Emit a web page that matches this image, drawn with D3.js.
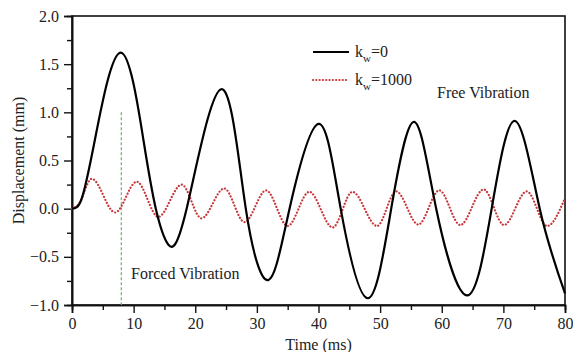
<!DOCTYPE html>
<html>
<head>
<meta charset="utf-8">
<script src="https://cdn.jsdelivr.net/npm/d3@7"></script>
<style>
  body { margin: 0; background: #fff; }
  svg { display: block; }
  svg text { font-family: "Liberation Serif", "Times New Roman", Times, "DejaVu Serif", serif; fill: #222; }
  .axis path, .axis line { stroke: #111; }
</style>
</head>
<body>
<div id="chart"></div>
<script>
// --- data (peaks, troughs, zero crossings) ---

// k_w = 0 (black solid)
const timeK0 = [0, 1.5, 3.7, 7.9, 11.6, 13.6, 15.6, 18.6, 24.2, 28.2, 31.9, 35.3, 40.0, 43.6, 48.0,
  51.8, 55.5, 59.1, 64.1, 68.1, 71.9, 75.9, 80];
const dispK0 = [0, 0.09, 0.71, 1.62, 0.71, 0, -0.37, 0, 1.24, 0, -0.74, 0, 0.88, 0, -0.93,
  0, 0.90, 0, -0.90, 0, 0.91, 0, -0.88];

// k_w = 1000 (red dotted)
const timeK1000 = [0, 1.0, 3.2, 7.0, 10.5, 14.0, 17.8, 21.0, 24.7, 28.0, 31.5, 35.0, 38.5, 42.3,
  45.5, 49.5, 52.6, 56.2, 59.6, 63.0, 66.8, 70.1, 73.8, 77.1, 80];
const dispK1000 = [0, 0.04, 0.31, -0.04, 0.28, -0.085, 0.25, -0.10, 0.21, -0.14, 0.19, -0.18, 0.175, -0.195,
  0.175, -0.18, 0.18, -0.165, 0.19, -0.17, 0.20, -0.17, 0.18, -0.18, 0.11];

const xTicks = [0, 10, 20, 30, 40, 50, 60, 70, 80];
const xMinorTicks = [5, 15, 25, 35, 45, 55, 65, 75];
const yTicks = [-1.0, -0.5, 0.0, 0.5, 1.0, 1.5, 2.0];
const yMinorTicks = [-0.75, -0.25, 0.25, 0.75, 1.25, 1.75];

const forcedEnd = 8;      // end of forcing, ms
const forcedTop = 1.0;    // top of the marker line

// --- layout ---
const width = 573, height = 352;
const margin = { top: 16, right: 8, bottom: 47, left: 72 };
const serif = '"Liberation Serif", "Times New Roman", Times, "DejaVu Serif", serif';

const svg = d3.select("#chart").append("svg")
  .attr("width", width)
  .attr("height", height)
  .attr("font-family", serif);

const x = d3.scaleLinear().domain([0, 80]).range([margin.left, width - margin.right]);
const y = d3.scaleLinear().domain([-1, 2]).range([height - margin.bottom, margin.top]);

// frame
svg.append("rect")
  .attr("x", x(0)).attr("y", y(2))
  .attr("width", x(80) - x(0)).attr("height", y(-1) - y(2))
  .attr("fill", "none").attr("stroke", "#111").attr("stroke-width", 1.6);

// axes, majors then minors
const fmt = d3.format(".1f");
svg.append("g").attr("class", "axis")
  .attr("transform", `translate(0,${y(-1)})`)
  .call(d3.axisBottom(x).tickValues(xTicks).tickSize(8).tickPadding(5).tickFormat(d3.format("d")));
svg.append("g").attr("class", "axis")
  .attr("transform", `translate(0,${y(-1)})`)
  .call(d3.axisBottom(x).tickValues(xMinorTicks).tickSize(5).tickFormat(""));

svg.append("g").attr("class", "axis")
  .attr("transform", `translate(${x(0)},0)`)
  .call(d3.axisLeft(y).tickValues(yTicks).tickSize(8).tickPadding(5).tickFormat(fmt));
svg.append("g").attr("class", "axis")
  .attr("transform", `translate(${x(0)},0)`)
  .call(d3.axisLeft(y).tickValues(yMinorTicks).tickSize(5).tickFormat(""));

svg.selectAll(".axis").attr("font-family", serif).attr("font-size", 16);
svg.selectAll(".axis path").attr("stroke-width", 1.6);
svg.selectAll(".axis line").attr("stroke-width", 1.4);
svg.selectAll(".axis text").attr("fill", "#222");

// axis titles
svg.append("text")
  .attr("x", (x(0) + x(80)) / 2).attr("y", 350)
  .attr("text-anchor", "middle")
  .attr("font-size", 16)
  .text("Time (ms)");

svg.append("text")
  .attr("transform", `translate(24,${(y(2) + y(-1)) / 2}) rotate(-90)`)
  .attr("text-anchor", "middle")
  .attr("font-size", 16)
  .text("Displacement (mm)");

// forced vibration marker
svg.append("line")
  .attr("x1", x(forcedEnd)).attr("x2", x(forcedEnd))
  .attr("y1", y(forcedTop)).attr("y2", y(-1))
  .attr("stroke", "#6fae6f").attr("stroke-width", 1.2)
  .attr("stroke-dasharray", "3,2");

// curves
const lineK0 = d3.line()
  .x(d => x(d[0]))
  .y(d => y(d[1]))
  .curve(d3.curveNatural);
const lineK1000 = d3.line()
  .x(d => x(d[0]))
  .y(d => y(d[1]))
  .curve(d3.curveMonotoneX);

const seriesK0 = timeK0.map((t, i) => [t, dispK0[i]]);
const seriesK1000 = timeK1000.map((t, i) => [t, dispK1000[i]]);

svg.append("path")
  .datum(seriesK1000)
  .attr("d", lineK1000)
  .attr("fill", "none")
  .attr("stroke", "#c8363a")
  .attr("stroke-width", 2.2)
  .attr("stroke-linecap", "round")
  .attr("stroke-dasharray", "0.1,3.2");

svg.append("path")
  .datum(seriesK0)
  .attr("d", lineK0)
  .attr("fill", "none")
  .attr("stroke", "#000")
  .attr("stroke-width", 2.2);

// annotations
svg.append("text")
  .attr("x", 437).attr("y", 98)
  .attr("font-size", 16)
  .text("Free Vibration");

svg.append("text")
  .attr("x", 131).attr("y", 279)
  .attr("font-size", 16)
  .text("Forced Vibration");

// legend
const legend = svg.append("g");
const legendItems = [
  { label: "=0", ypos: 52, dash: null, color: "#000" },
  { label: "=1000", ypos: 80, dash: "0.1,3.2", color: "#c8363a" }
];
legendItems.forEach(it => {
  legend.append("line")
    .attr("x1", 313).attr("x2", 349)
    .attr("y1", it.ypos).attr("y2", it.ypos)
    .attr("stroke", it.color)
    .attr("stroke-width", 2.2)
    .attr("stroke-linecap", it.dash ? "round" : "butt")
    .attr("stroke-dasharray", it.dash);
  const t = legend.append("text")
    .attr("x", 355).attr("y", it.ypos + 5)
    .attr("font-size", 16);
  t.append("tspan").text("k");
  t.append("tspan").attr("dy", 5).attr("font-size", 11).text("w");
  t.append("tspan").attr("dy", -5).text(it.label);
});
</script>
</body>
</html>
